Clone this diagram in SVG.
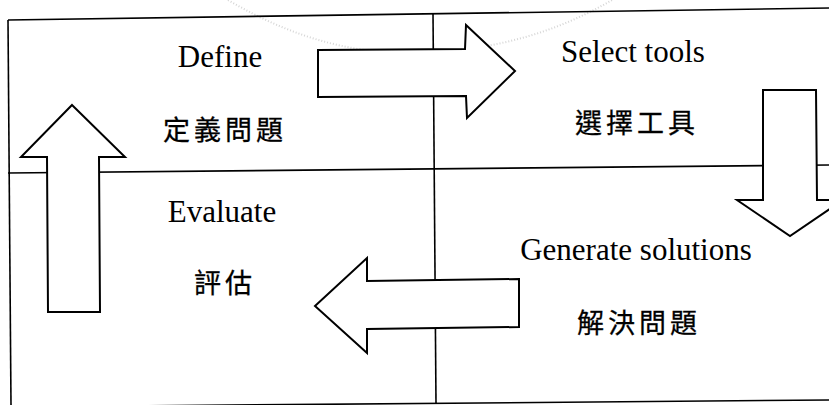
<svg xmlns="http://www.w3.org/2000/svg" width="829" height="405" viewBox="0 0 829 405">
  <style>
    .grid { stroke: #000; stroke-width: 1.6; fill: none; }
    .arrow { fill: #fff; stroke: #000; stroke-width: 2; stroke-linejoin: miter; }
    .en { font-family: "Liberation Serif", "Times New Roman", serif; font-size: 31px; fill: #000; text-anchor: middle; }
    .zh { font-family: "Noto Sans CJK TC", "Noto Sans CJK SC", sans-serif; font-size: 27px; letter-spacing: 4px; fill: #000; stroke: #000; stroke-width: 0.3; text-anchor: middle; }
    .seal { fill: none; stroke: #d6d6d6; stroke-width: 2; stroke-dasharray: 1 2; }
  </style>
  <rect width="829" height="405" fill="#fff"/>
  <path class="seal" d="M 228 0 Q 330 60 430 52 Q 530 48 612 0"/>
  <g id="grid">
    <line class="grid" x1="8" y1="20" x2="829" y2="8"/>
    <line class="grid" x1="8" y1="20" x2="11" y2="405"/>
    <line class="grid" x1="8" y1="173" x2="829" y2="165"/>
    <line class="grid" x1="433" y1="13" x2="436" y2="403"/>
    <line class="grid" x1="8" y1="407" x2="829" y2="400"/>
  </g>
  <g id="node-define">
    <text class="en" x="220" y="67">Define</text>
    <text class="zh" x="225" y="140">定義問題</text>
  </g>
  <g id="node-select">
    <text class="en" x="633" y="62">Select tools</text>
    <text class="zh" x="637" y="133">選擇工具</text>
  </g>
  <g id="node-generate">
    <text class="en" x="636" y="260">Generate solutions</text>
    <text class="zh" x="639" y="333">解決問題</text>
  </g>
  <g id="node-evaluate">
    <text class="en" x="222" y="222">Evaluate</text>
    <text class="zh" x="225" y="293">評估</text>
  </g>
  <g id="connectors">
    <polygon class="arrow" points="318,50 465,49 466,25 515,71 467,118 466,96 318,97"/>
    <polygon class="arrow" points="763,90 816,90 817,200 843,200 790,236 737,200 763,200"/>
    <polygon class="arrow" points="315,306 367,258 367,281 519,279 519,327 367,329 367,353"/>
    <polygon class="arrow" points="72,105 125,157 99,157 100,312 48,312 47,157 21,157"/>
  </g>
</svg>
